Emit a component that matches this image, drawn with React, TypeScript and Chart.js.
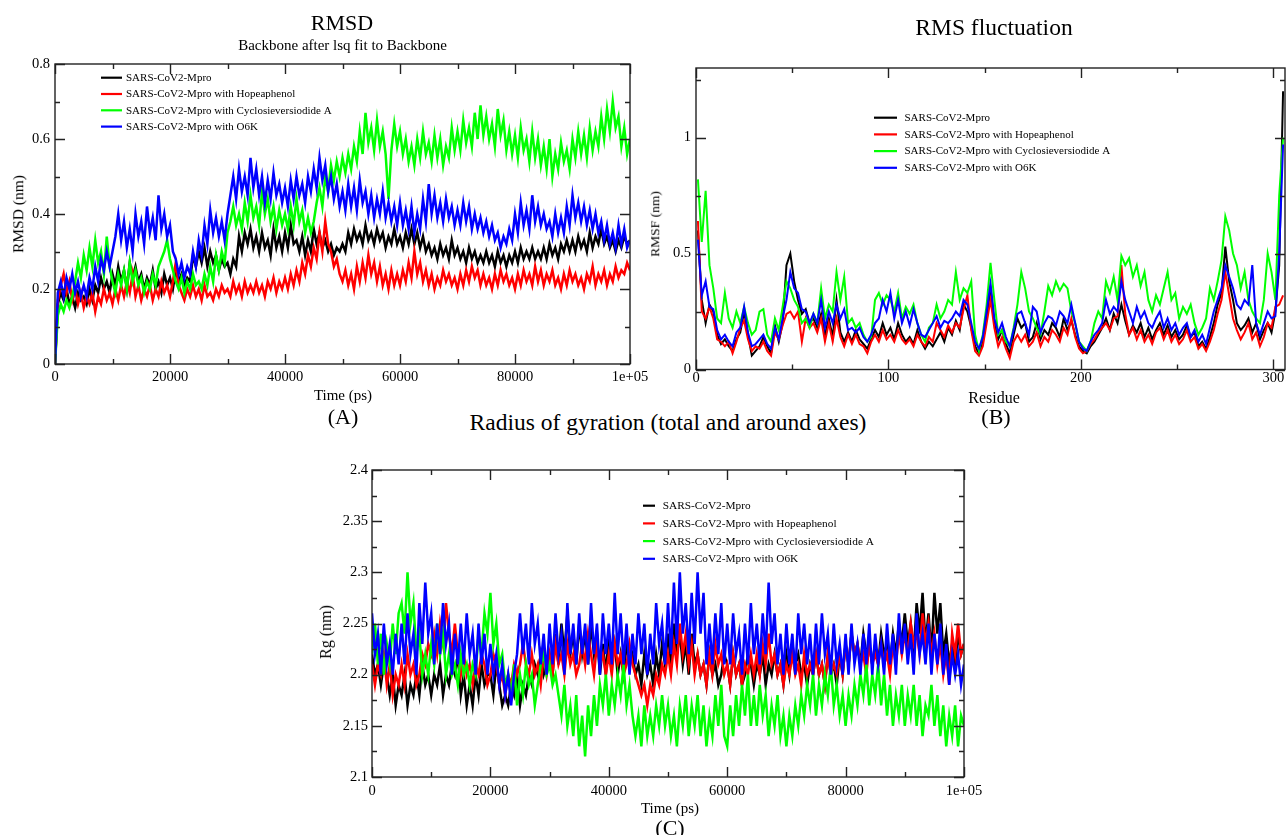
import React, { useEffect, useRef } from 'react';
import { Chart, registerables } from 'chart.js';
Chart.register(...registerables);

const FONT = '"Liberation Serif", "Times New Roman", Times, serif';

const seriesNames = ['SARS-CoV2-Mpro', 'SARS-CoV2-Mpro with Hopeaphenol', 'SARS-CoV2-Mpro with Cyclosieversiodide A', 'SARS-CoV2-Mpro with O6K'];
const seriesColors = ['#000000', '#ff0000', '#00ff00', '#0000ff'];

// x grids
const timePs = Array.from({ length: 201 }, (_, i) => i * 500);
const residues = Array.from({ length: 153 }, (_, i) => 1 + i * 2);

// ticks
const timeTicks = [0, 20000, 40000, 60000, 80000, 100000];
const timeTickLabels = ['0', '20000', '40000', '60000', '80000', '1e+05'];
const timeMinor = [10000, 30000, 50000, 70000, 90000];
const rmsdTicks = [0, 0.2, 0.4, 0.6, 0.8];
const rmsdTickLabels = ['0', '0.2', '0.4', '0.6', '0.8'];
const rmsdMinor = [0.1, 0.3, 0.5, 0.7];
const residueTicks = [0, 100, 200, 300];
const residueTickLabels = ['0', '100', '200', '300'];
const residueMinor = [50, 150, 250];
const rmsfTicks = [0, 0.5, 1];
const rmsfTickLabels = ['0', '0.5', '1'];
const rmsfMinor = [0.25, 0.75, 1.25];
const rgTicks = [2.1, 2.15, 2.2, 2.25, 2.3, 2.35, 2.4];
const rgTickLabels = ['2.1', '2.15', '2.2', '2.25', '2.3', '2.35', '2.4'];
const rgMinor = [2.125, 2.175, 2.225, 2.275, 2.325, 2.375];

// (A) RMSD, nm, every 500 ps
const rmsdBlack = [
  0, .16, .19, .17, .2, .16, .18, .15, .19, .17,
  .18, .16, .2, .17, .21, .19, .23, .2, .22, .19,
  .24, .21, .26, .22, .25, .2, .27, .23, .26, .22,
  .24, .2, .23, .21, .25, .2, .22, .19, .24, .21,
  .23, .2, .25, .22, .24, .21, .23, .22, .29, .26,
  .3, .27, .31, .26, .3, .27, .29, .25, .28, .26,
  .27, .24, .28, .26, .34, .3, .35, .32, .36, .31,
  .34, .3, .35, .31, .33, .29, .36, .31, .34, .3,
  .35, .31, .37, .32, .33, .3, .34, .29, .33, .3,
  .36, .32, .35, .31, .33, .3, .32, .29, .31, .3,
  .32, .3, .35, .32, .36, .33, .35, .32, .37, .33,
  .35, .32, .36, .33, .35, .31, .34, .32, .36, .32,
  .34, .31, .35, .32, .36, .32, .35, .31, .34, .3,
  .32, .29, .31, .28, .32, .29, .31, .28, .33, .29,
  .31, .28, .3, .27, .31, .28, .3, .27, .29, .27,
  .3, .27, .29, .26, .3, .27, .29, .26, .29, .27,
  .3, .27, .31, .28, .3, .28, .31, .28, .3, .28,
  .31, .28, .32, .29, .31, .28, .32, .3, .33, .3,
  .33, .3, .34, .31, .33, .3, .35, .31, .34, .32,
  .36, .32, .34, .31, .33, .3, .33, .31, .34, .32, .33,
];
const rmsdRed = [
  0, .17, .21, .24, .19, .22, .17, .2, .16, .19,
  .15, .18, .16, .19, .14, .18, .16, .2, .17, .19,
  .16, .2, .17, .21, .18, .22, .19, .24, .18, .21,
  .17, .2, .18, .21, .17, .2, .18, .22, .19, .21,
  .18, .22, .27, .21, .19, .17, .2, .18, .21, .18,
  .2, .17, .21, .18, .19, .17, .2, .18, .21, .19,
  .2, .18, .22, .19, .21, .18, .22, .19, .21, .19,
  .22, .19, .21, .18, .22, .2, .23, .19, .22, .2,
  .23, .2, .24, .21, .25, .22, .27, .24, .29, .26,
  .31, .28, .35, .3, .38, .32, .3, .26, .28, .24,
  .22, .25, .21, .24, .2, .26, .22, .27, .23, .29,
  .24, .27, .22, .26, .21, .24, .2, .25, .21, .24,
  .21, .25, .22, .27, .23, .3, .24, .27, .22, .25,
  .21, .24, .2, .23, .21, .25, .22, .24, .21, .23,
  .2, .24, .21, .25, .22, .26, .23, .25, .21, .24,
  .21, .23, .2, .24, .21, .25, .22, .24, .21, .23,
  .2, .24, .21, .25, .22, .24, .21, .26, .22, .25,
  .21, .24, .22, .25, .21, .23, .2, .24, .21, .25,
  .22, .24, .21, .23, .2, .24, .22, .26, .21, .24,
  .22, .25, .21, .24, .22, .26, .23, .25, .24, .27, .25,
];
const rmsdGreen = [
  0, .13, .16, .14, .17, .15, .18, .22, .27, .23,
  .29, .25, .31, .26, .33, .27, .3, .24, .34, .26,
  .22, .19, .24, .21, .25, .2, .27, .22, .25, .21,
  .23, .19, .22, .2, .24, .21, .26, .28, .3, .33,
  .28, .25, .22, .2, .23, .19, .22, .2, .24, .21,
  .22, .2, .24, .21, .26, .22, .29, .25, .3, .27,
  .35, .38, .42, .37, .4, .36, .43, .38, .45, .39,
  .42, .37, .46, .4, .44, .38, .42, .36, .41, .37,
  .4, .36, .42, .37, .44, .38, .41, .35, .39, .35,
  .38, .43, .47, .42, .5, .46, .53, .49, .54, .5,
  .55, .51, .56, .52, .58, .54, .62, .56, .67, .59,
  .63, .57, .65, .58, .62, .56, .44, .57, .64, .58,
  .62, .56, .6, .54, .58, .53, .6, .55, .62, .56,
  .59, .54, .61, .55, .6, .53, .58, .55, .63, .57,
  .62, .57, .65, .59, .63, .58, .67, .6, .69, .61,
  .66, .6, .64, .58, .68, .61, .65, .57, .62, .56,
  .61, .55, .63, .57, .6, .54, .62, .55, .6, .53,
  .58, .52, .6, .5, .56, .52, .59, .54, .57, .52,
  .6, .55, .62, .56, .61, .55, .63, .57, .62, .58,
  .66, .6, .68, .62, .7, .63, .66, .58, .63, .56, .6,
];
const rmsdBlue = [
  0, .19, .22, .18, .23, .2, .24, .19, .22, .18,
  .21, .18, .23, .2, .26, .22, .28, .25, .3, .26,
  .3, .34, .4, .33, .38, .31, .36, .3, .4, .34,
  .38, .32, .42, .35, .39, .33, .45, .36, .4, .34,
  .37, .3, .28, .24, .27, .23, .26, .24, .3, .26,
  .33, .29, .37, .32, .41, .35, .39, .34, .38, .33,
  .4, .45, .5, .44, .52, .46, .5, .45, .55, .47,
  .52, .45, .5, .43, .49, .44, .51, .45, .48, .43,
  .47, .42, .49, .44, .5, .45, .48, .43, .5, .46,
  .52, .47, .55, .49, .53, .46, .5, .44, .48, .42,
  .46, .41, .48, .42, .47, .41, .49, .43, .46, .4,
  .45, .39, .44, .4, .46, .39, .43, .38, .42, .37,
  .43, .37, .41, .36, .42, .35, .4, .36, .44, .38,
  .48, .4, .45, .39, .43, .38, .44, .39, .42, .37,
  .41, .37, .43, .38, .42, .36, .4, .36, .39, .35,
  .38, .34, .37, .33, .35, .31, .34, .32, .36, .33,
  .4, .35, .43, .37, .41, .36, .45, .38, .42, .37,
  .4, .36, .38, .34, .4, .35, .39, .35, .42, .37,
  .45, .39, .43, .38, .42, .37, .41, .36, .4, .35,
  .38, .33, .37, .32, .35, .31, .37, .32, .36, .31, .33,
];

// (B) RMSF, nm, every 2nd residue
const rmsfBlack = [
  .6, .3, .2, .28, .25, .15, .11, .13, .1, .08,
  .13, .16, .25, .15, .06, .08, .1, .14, .1, .07,
  .19, .12, .2, .45, .5, .38, .3, .24, .26, .2,
  .22, .18, .24, .15, .22, .14, .3, .16, .12, .16,
  .12, .17, .13, .11, .09, .13, .17, .14, .2, .15,
  .18, .13, .2, .15, .12, .14, .11, .17, .12, .09,
  .12, .1, .13, .16, .12, .18, .15, .21, .17, .28,
  .25, .18, .1, .07, .12, .22, .35, .2, .13, .17,
  .11, .07, .15, .22, .18, .2, .12, .14, .2, .13,
  .17, .15, .2, .18, .14, .22, .17, .21, .15, .1,
  .08, .07, .1, .12, .15, .18, .22, .17, .24, .2,
  .28, .21, .15, .19, .16, .2, .14, .18, .13, .17,
  .2, .15, .19, .14, .17, .13, .15, .19, .14, .16,
  .1, .12, .09, .14, .2, .28, .33, .53, .38, .3,
  .2, .17, .19, .22, .16, .2, .13, .17, .2, .16,
  .25, .45, 1.2,
];
const rmsfRed = [
  .64, .25, .22, .27, .22, .13, .12, .1, .12, .07,
  .12, .18, .21, .13, .08, .1, .09, .12, .08, .06,
  .16, .13, .19, .24, .25, .22, .25, .12, .22, .18,
  .2, .16, .22, .12, .2, .12, .22, .14, .1, .15,
  .11, .15, .11, .1, .07, .12, .15, .12, .17, .13,
  .15, .12, .17, .13, .11, .13, .1, .15, .12, .1,
  .14, .12, .2, .17, .14, .19, .16, .2, .18, .26,
  .32, .17, .08, .06, .1, .2, .3, .18, .1, .14,
  .09, .05, .12, .15, .12, .15, .1, .12, .16, .1,
  .14, .12, .17, .15, .12, .18, .15, .22, .14, .09,
  .07, .08, .11, .13, .16, .18, .2, .17, .22, .23,
  .45, .24, .15, .18, .13, .17, .12, .15, .11, .16,
  .18, .13, .17, .12, .15, .11, .13, .17, .12, .14,
  .09, .11, .08, .12, .17, .24, .3, .42, .32, .22,
  .17, .13, .16, .2, .13, .16, .1, .14, .2, .18,
  .27, .28, .32,
];
const rmsfGreen = [
  .82, .55, .77, .45, .35, .22, .2, .33, .22, .18,
  .25, .2, .27, .2, .15, .17, .25, .26, .15, .12,
  .22, .17, .27, .38, .35, .3, .27, .2, .22, .18,
  .24, .2, .35, .22, .28, .25, .42, .3, .4, .2,
  .22, .18, .2, .15, .12, .14, .3, .33, .28, .32,
  .3, .25, .33, .22, .27, .24, .28, .2, .15, .12,
  .18, .2, .28, .22, .25, .3, .28, .42, .3, .35,
  .33, .38, .15, .08, .15, .28, .46, .3, .15, .17,
  .12, .1, .18, .28, .42, .35, .25, .22, .18, .15,
  .25, .36, .32, .38, .34, .37, .35, .25, .2, .12,
  .1, .08, .12, .2, .25, .22, .38, .33, .4, .3,
  .49, .45, .48, .4, .45, .36, .42, .3, .25, .32,
  .28, .35, .42, .3, .33, .22, .27, .24, .28, .2,
  .15, .18, .22, .35, .3, .38, .47, .66, .6, .5,
  .45, .35, .42, .3, .25, .22, .2, .3, .5, .42,
  .3, .75, 1.0,
];
const rmsfBlue = [
  .56, .32, .38, .27, .26, .17, .13, .15, .12, .1,
  .16, .18, .27, .16, .1, .11, .13, .15, .11, .09,
  .18, .13, .22, .3, .42, .35, .33, .26, .25, .2,
  .24, .2, .3, .18, .25, .2, .28, .22, .26, .17,
  .18, .16, .18, .14, .12, .15, .2, .22, .3, .25,
  .33, .22, .3, .2, .25, .19, .26, .2, .15, .14,
  .17, .2, .23, .18, .21, .2, .22, .25, .23, .3,
  .28, .2, .12, .09, .14, .25, .37, .22, .16, .2,
  .14, .1, .17, .24, .25, .2, .15, .27, .25, .16,
  .2, .23, .22, .19, .25, .23, .2, .28, .2, .12,
  .09, .08, .12, .15, .17, .2, .3, .24, .27, .25,
  .38, .3, .25, .2, .27, .22, .25, .2, .18, .22,
  .25, .18, .22, .17, .2, .15, .18, .2, .14, .17,
  .12, .15, .11, .18, .25, .3, .35, .45, .4, .35,
  .28, .26, .3, .28, .45, .2, .15, .2, .25, .22,
  .23, .5, .97,
];

// (C) Radius of gyration, nm, every 500 ps
const rgBlack = [
  2.22, 2.2, 2.21, 2.19, 2.21, 2.2, 2.18, 2.2, 2.17, 2.19,
  2.18, 2.2, 2.17, 2.19, 2.18, 2.2, 2.18, 2.21, 2.19, 2.2,
  2.18, 2.2, 2.19, 2.21, 2.18, 2.2, 2.19, 2.21, 2.2, 2.22,
  2.18, 2.2, 2.17, 2.19, 2.17, 2.2, 2.18, 2.21, 2.19, 2.2,
  2.2, 2.18, 2.21, 2.19, 2.17, 2.18, 2.17, 2.19, 2.18, 2.2,
  2.17, 2.19, 2.18, 2.2, 2.19, 2.21, 2.2, 2.22, 2.2, 2.21,
  2.22, 2.2, 2.24, 2.21, 2.25, 2.22, 2.26, 2.22, 2.24, 2.21,
  2.25, 2.22, 2.24, 2.21, 2.25, 2.22, 2.24, 2.2, 2.23, 2.2,
  2.24, 2.21, 2.23, 2.2, 2.22, 2.2, 2.23, 2.21, 2.22, 2.2,
  2.21, 2.19, 2.22, 2.2, 2.21, 2.19, 2.22, 2.2, 2.23, 2.21,
  2.24, 2.21, 2.25, 2.22, 2.24, 2.21, 2.23, 2.2, 2.24, 2.21,
  2.22, 2.2, 2.21, 2.19, 2.22, 2.2, 2.21, 2.19, 2.2, 2.22,
  2.21, 2.19, 2.22, 2.2, 2.21, 2.19, 2.2, 2.22, 2.21, 2.19,
  2.21, 2.2, 2.22, 2.19, 2.21, 2.2, 2.22, 2.2, 2.21, 2.19,
  2.22, 2.2, 2.23, 2.21, 2.22, 2.2, 2.21, 2.19, 2.21, 2.2,
  2.22, 2.2, 2.21, 2.19, 2.22, 2.2, 2.21, 2.19, 2.22, 2.2,
  2.23, 2.21, 2.24, 2.22, 2.23, 2.21, 2.24, 2.22, 2.23, 2.21,
  2.23, 2.21, 2.24, 2.22, 2.23, 2.21, 2.24, 2.22, 2.25, 2.23,
  2.26, 2.23, 2.25, 2.22, 2.27, 2.24, 2.28, 2.23, 2.26, 2.22,
  2.28, 2.24, 2.27, 2.22, 2.24, 2.21, 2.23, 2.21, 2.24, 2.22, 2.23,
];
const rgRed = [
  2.21, 2.19, 2.21, 2.2, 2.22, 2.19, 2.21, 2.18, 2.2, 2.19,
  2.21, 2.19, 2.22, 2.2, 2.21, 2.19, 2.2, 2.22, 2.21, 2.23,
  2.22, 2.24, 2.22, 2.25, 2.23, 2.27, 2.24, 2.22, 2.25, 2.22,
  2.2, 2.22, 2.2, 2.21, 2.19, 2.21, 2.2, 2.22, 2.21, 2.19,
  2.2, 2.22, 2.21, 2.19, 2.2, 2.18, 2.2, 2.19, 2.21, 2.2,
  2.21, 2.23, 2.21, 2.2, 2.22, 2.2, 2.21, 2.19, 2.22, 2.2,
  2.22, 2.2, 2.23, 2.21, 2.22, 2.2, 2.23, 2.21, 2.22, 2.2,
  2.21, 2.23, 2.21, 2.24, 2.22, 2.2, 2.23, 2.21, 2.22, 2.2,
  2.22, 2.2, 2.23, 2.21, 2.22, 2.2, 2.21, 2.23, 2.21, 2.2,
  2.19, 2.18, 2.19, 2.17, 2.19, 2.18, 2.2, 2.19, 2.21, 2.2,
  2.22, 2.2, 2.23, 2.21, 2.25, 2.22, 2.24, 2.21, 2.23, 2.2,
  2.22, 2.2, 2.21, 2.19, 2.22, 2.2, 2.23, 2.21, 2.22, 2.2,
  2.21, 2.19, 2.22, 2.2, 2.21, 2.19, 2.21, 2.2, 2.22, 2.2,
  2.22, 2.2, 2.23, 2.21, 2.24, 2.21, 2.22, 2.2, 2.21, 2.19,
  2.21, 2.2, 2.22, 2.2, 2.21, 2.19, 2.22, 2.2, 2.21, 2.2,
  2.22, 2.2, 2.21, 2.19, 2.22, 2.2, 2.21, 2.2, 2.22, 2.2,
  2.23, 2.21, 2.24, 2.22, 2.23, 2.21, 2.22, 2.2, 2.23, 2.21,
  2.22, 2.21, 2.23, 2.21, 2.22, 2.2, 2.23, 2.21, 2.24, 2.22,
  2.24, 2.22, 2.25, 2.23, 2.24, 2.22, 2.26, 2.23, 2.25, 2.22,
  2.24, 2.21, 2.23, 2.2, 2.22, 2.19, 2.24, 2.22, 2.25, 2.22, 2.23,
];
const rgGreen = [
  2.22, 2.25, 2.21, 2.24, 2.2, 2.23, 2.21, 2.25, 2.22, 2.26,
  2.27, 2.24, 2.3, 2.25, 2.27, 2.22, 2.24, 2.2, 2.22, 2.2,
  2.23, 2.21, 2.25, 2.22, 2.24, 2.2, 2.22, 2.2, 2.21, 2.19,
  2.22, 2.2, 2.21, 2.19, 2.21, 2.2, 2.24, 2.22, 2.26, 2.24,
  2.28, 2.23, 2.25, 2.21, 2.22, 2.19, 2.2, 2.18, 2.21, 2.17,
  2.2, 2.18, 2.21, 2.19, 2.2, 2.17, 2.19, 2.21, 2.22, 2.2,
  2.21, 2.19, 2.2, 2.18, 2.16, 2.19, 2.15, 2.17, 2.14, 2.18,
  2.13, 2.16, 2.12, 2.17, 2.14, 2.18, 2.15, 2.19, 2.17, 2.2,
  2.16, 2.19, 2.17, 2.2, 2.18, 2.21, 2.17, 2.19, 2.16, 2.14,
  2.16, 2.13, 2.17, 2.14, 2.16, 2.14, 2.17, 2.15, 2.18, 2.15,
  2.17, 2.14, 2.16, 2.13, 2.17, 2.15, 2.18, 2.14, 2.17, 2.15,
  2.18, 2.14, 2.17, 2.13, 2.16, 2.14, 2.18, 2.15, 2.19, 2.14,
  2.13, 2.17, 2.14, 2.18, 2.15, 2.19, 2.16, 2.2, 2.15, 2.18,
  2.15, 2.19, 2.16, 2.18, 2.14, 2.17, 2.15, 2.18, 2.14, 2.16,
  2.13, 2.16, 2.14, 2.17, 2.15, 2.18, 2.16, 2.19, 2.17, 2.2,
  2.16, 2.19, 2.17, 2.2, 2.18, 2.21, 2.17, 2.19, 2.16, 2.18,
  2.15, 2.18, 2.16, 2.19, 2.17, 2.2, 2.18, 2.21, 2.17, 2.2,
  2.18, 2.21, 2.17, 2.2, 2.16, 2.19, 2.15, 2.18, 2.16, 2.19,
  2.15, 2.18, 2.16, 2.19, 2.15, 2.18, 2.14, 2.17, 2.16, 2.19,
  2.15, 2.18, 2.14, 2.17, 2.13, 2.16, 2.14, 2.17, 2.13, 2.16, 2.15,
];
const rgBlue = [
  2.26, 2.22, 2.24, 2.2, 2.25, 2.21, 2.23, 2.2, 2.24, 2.21,
  2.25, 2.21, 2.26, 2.22, 2.24, 2.2, 2.27, 2.23, 2.29, 2.24,
  2.26, 2.21, 2.25, 2.22, 2.27, 2.23, 2.25, 2.2, 2.24, 2.21,
  2.25, 2.21, 2.26, 2.22, 2.24, 2.2, 2.25, 2.21, 2.24, 2.2,
  2.23, 2.2, 2.22, 2.19, 2.21, 2.18, 2.2, 2.17, 2.2, 2.22,
  2.26, 2.22, 2.25, 2.21, 2.27, 2.23, 2.25, 2.21, 2.24, 2.2,
  2.25, 2.21, 2.26, 2.22, 2.24, 2.2, 2.27, 2.22, 2.25, 2.21,
  2.26, 2.22, 2.25, 2.21, 2.27, 2.22, 2.25, 2.2, 2.26, 2.22,
  2.25, 2.21, 2.28, 2.22, 2.26, 2.21, 2.25, 2.2, 2.24, 2.21,
  2.26, 2.22, 2.25, 2.2, 2.24, 2.21, 2.27, 2.23, 2.25, 2.21,
  2.27, 2.22, 2.29, 2.23, 2.3, 2.24, 2.27, 2.22, 2.28, 2.23,
  2.3, 2.24, 2.28, 2.21, 2.25, 2.21, 2.26, 2.22, 2.27, 2.21,
  2.25, 2.21, 2.26, 2.22, 2.24, 2.2, 2.25, 2.21, 2.27, 2.22,
  2.25, 2.21, 2.26, 2.22, 2.29, 2.23, 2.26, 2.21, 2.24, 2.2,
  2.25, 2.21, 2.24, 2.2, 2.26, 2.22, 2.25, 2.21, 2.24, 2.2,
  2.25, 2.21, 2.26, 2.22, 2.24, 2.2, 2.25, 2.21, 2.23, 2.2,
  2.24, 2.2, 2.25, 2.21, 2.23, 2.2, 2.24, 2.21, 2.25, 2.2,
  2.24, 2.21, 2.23, 2.2, 2.25, 2.21, 2.24, 2.2, 2.26, 2.22,
  2.25, 2.21, 2.24, 2.2, 2.26, 2.22, 2.24, 2.21, 2.25, 2.2,
  2.24, 2.21, 2.25, 2.2, 2.23, 2.19, 2.22, 2.2, 2.22, 2.19, 2.21,
];

const framePlugin = {
  id: 'frameTicks',
  afterDatasetsDraw(chart: any, _args: any, o: any) {
    const { ctx, chartArea: a, scales } = chart;
    const xs = scales.x, ys = scales.y;
    ctx.save();
    ctx.strokeStyle = '#222';
    ctx.lineWidth = 1.4;
    ctx.beginPath();
    const vt = (vals: number[], len: number) => {
      vals.forEach((v) => {
        const px = Math.round(xs.getPixelForValue(v)) + 0.5;
        ctx.moveTo(px, a.bottom); ctx.lineTo(px, a.bottom - len);
        ctx.moveTo(px, a.top); ctx.lineTo(px, a.top + len);
      });
    };
    const ht = (vals: number[], len: number) => {
      vals.forEach((v) => {
        const py = Math.round(ys.getPixelForValue(v)) + 0.5;
        ctx.moveTo(a.left, py); ctx.lineTo(a.left + len, py);
        ctx.moveTo(a.right, py); ctx.lineTo(a.right - len, py);
      });
    };
    vt(o.xMajor, 10); vt(o.xMinor, 5);
    ht(o.yMajor, 10); ht(o.yMinor, 5);
    ctx.stroke();
    ctx.strokeRect(a.left, a.top, a.right - a.left, a.bottom - a.top);
    ctx.restore();
  },
};

const legendPlugin = {
  id: 'insideLegend',
  afterDraw(chart: any, _args: any, o: any) {
    const { ctx, chartArea: a } = chart;
    ctx.save();
    ctx.font = `${o.fontSize}px ${FONT}`;
    ctx.textBaseline = 'middle';
    ctx.textAlign = 'left';
    chart.data.datasets.forEach((ds: any, i: number) => {
      const yy = a.top + o.top + i * o.row;
      ctx.strokeStyle = ds.borderColor;
      ctx.lineWidth = 2.2;
      ctx.beginPath();
      ctx.moveTo(a.left + o.lineStart, yy);
      ctx.lineTo(a.left + o.lineEnd, yy);
      ctx.stroke();
      ctx.fillStyle = '#000';
      ctx.fillText(ds.label, a.left + o.textX, yy + 0.5);
    });
    ctx.restore();
  },
};

function buildConfig(p: any) {
  const tickFont = { family: FONT, size: 14.5 };
  return {
    type: 'line',
    data: {
      datasets: p.series.map((vals: number[], i: number) => ({
        label: seriesNames[i],
        data: vals.map((v, j) => ({ x: p.xs[j], y: v })),
        borderColor: seriesColors[i],
        backgroundColor: seriesColors[i],
        borderWidth: p.lineWidth,
        pointRadius: 0,
        tension: 0,
        fill: false,
        order: 3 - i,
      })),
    },
    options: {
      responsive: false,
      animation: false,
      devicePixelRatio: 1,
      events: [],
      layout: { padding: p.padding },
      plugins: {
        legend: { display: false },
        tooltip: { enabled: false },
        title: { display: false },
        frameTicks: { xMajor: p.xTicks, xMinor: p.xMinor, yMajor: p.yTicks, yMinor: p.yMinor },
        insideLegend: p.legend,
      },
      scales: {
        x: {
          type: 'linear', min: p.xMin, max: p.xMax,
          afterBuildTicks: (s: any) => { s.ticks = p.xTicks.map((v: number) => ({ value: v })); },
          afterFit: (s: any) => { s.height = p.xHeight; },
          ticks: { callback: (_v: any, i: number) => p.xLabels[i], font: tickFont, color: '#000', padding: p.xPad, maxRotation: 0, minRotation: 0, autoSkip: false },
          grid: { display: false, drawTicks: false },
          border: { display: false },
        },
        y: {
          type: 'linear', min: p.yMin, max: p.yMax,
          afterBuildTicks: (s: any) => { s.ticks = p.yTicks.map((v: number) => ({ value: v })); },
          afterFit: (s: any) => { s.width = p.yWidth; },
          ticks: { callback: (_v: any, i: number) => p.yLabels[i], font: tickFont, color: '#000', padding: p.yPad, autoSkip: false },
          grid: { display: false, drawTicks: false },
          border: { display: false },
        },
      },
    },
    plugins: [framePlugin, legendPlugin],
  };
}

function ChartBox({ left, top, width, height, cfg }: any) {
  const ref = useRef<HTMLCanvasElement>(null);
  useEffect(() => {
    const chart = new Chart(ref.current as HTMLCanvasElement, buildConfig(cfg) as any);
    return () => chart.destroy();
  }, []);
  return <canvas ref={ref} width={width} height={height} style={{ position: 'absolute', left, top, width, height, display: 'block' }} />;
}

function Txt({ x, y, size, rot, children }: any) {
  return (
    <div style={{ position: 'absolute', left: x, top: y, transform: `translate(-50%, -50%)${rot ? ' rotate(-90deg)' : ''}`, fontSize: size, fontFamily: FONT, whiteSpace: 'nowrap', lineHeight: 1, color: '#000' }}>{children}</div>
  );
}

const cfgA = {
  xs: timePs, series: [rmsdBlack, rmsdRed, rmsdGreen, rmsdBlue], lineWidth: 2.5,
  xMin: 0, xMax: 100000, xTicks: timeTicks, xLabels: timeTickLabels, xMinor: timeMinor,
  yMin: 0, yMax: 0.8, yTicks: rmsdTicks, yLabels: rmsdTickLabels, yMinor: rmsdMinor,
  padding: { left: 0, top: 64, right: 30, bottom: 6 }, yWidth: 55, xHeight: 30, xPad: 4, yPad: 5,
  legend: { lineStart: 46, lineEnd: 67, textX: 71, top: 13.7, row: 16.3, fontSize: 11 },
};
const cfgB = {
  xs: residues, series: [rmsfBlack, rmsfRed, rmsfGreen, rmsfBlue], lineWidth: 2,
  xMin: 0, xMax: 306, xTicks: residueTicks, xLabels: residueTickLabels, xMinor: residueMinor,
  yMin: 0, yMax: 1.3, yTicks: rmsfTicks, yLabels: rmsfTickLabels, yMinor: rmsfMinor,
  padding: { left: 0, top: 68, right: 2, bottom: 5.5 }, yWidth: 56, xHeight: 25, xPad: 0, yPad: 5,
  legend: { lineStart: 178, lineEnd: 201, textX: 208.5, top: 49.7, row: 16.7, fontSize: 11 },
};
const cfgC = {
  xs: timePs, series: [rgBlack, rgRed, rgGreen, rgBlue], lineWidth: 2.5,
  xMin: 0, xMax: 100000, xTicks: timeTicks, xLabels: timeTickLabels, xMinor: timeMinor,
  yMin: 2.1, yMax: 2.4, yTicks: rgTicks, yLabels: rgTickLabels, yMinor: rgMinor,
  padding: { left: 0, top: 30, right: 26, bottom: 28 }, yWidth: 42, xHeight: 30, xPad: 5, yPad: 4,
  legend: { lineStart: 271, lineEnd: 283, textX: 290.7, top: 35.7, row: 17.7, fontSize: 11.3 },
};

export default function App() {
  return (
    <div style={{ position: 'absolute', left: 0, top: 0, width: 1287, height: 835, background: '#fff', overflow: 'hidden' }}>
      <ChartBox left={0} top={0} width={660} height={400} cfg={cfgA} />
      <ChartBox left={640} top={0} width={647} height={400} cfg={cfgB} />
      <ChartBox left={330} top={440} width={660} height={395} cfg={cfgC} />
      <Txt x={342} y={23} size={22}>RMSD</Txt>
      <Txt x={342.5} y={45} size={15}>Backbone after lsq fit to Backbone</Txt>
      <Txt x={18} y={214} size={15.5} rot>RMSD (nm)</Txt>
      <Txt x={343} y={395} size={15}>Time (ps)</Txt>
      <Txt x={343} y={417} size={22}>(A)</Txt>
      <Txt x={994} y={28} size={23.5}>RMS fluctuation</Txt>
      <Txt x={655} y={224} size={13.5} rot>RMSF (nm)</Txt>
      <Txt x={994} y={398} size={16}>Residue</Txt>
      <Txt x={996} y={417} size={22}>(B)</Txt>
      <Txt x={668} y={423} size={23.5}>Radius of gyration (total and around axes)</Txt>
      <Txt x={326} y={632} size={16} rot>Rg (nm)</Txt>
      <Txt x={670} y={808} size={15}>Time (ps)</Txt>
      <Txt x={670} y={828} size={22}>(C)</Txt>
    </div>
  );
}
